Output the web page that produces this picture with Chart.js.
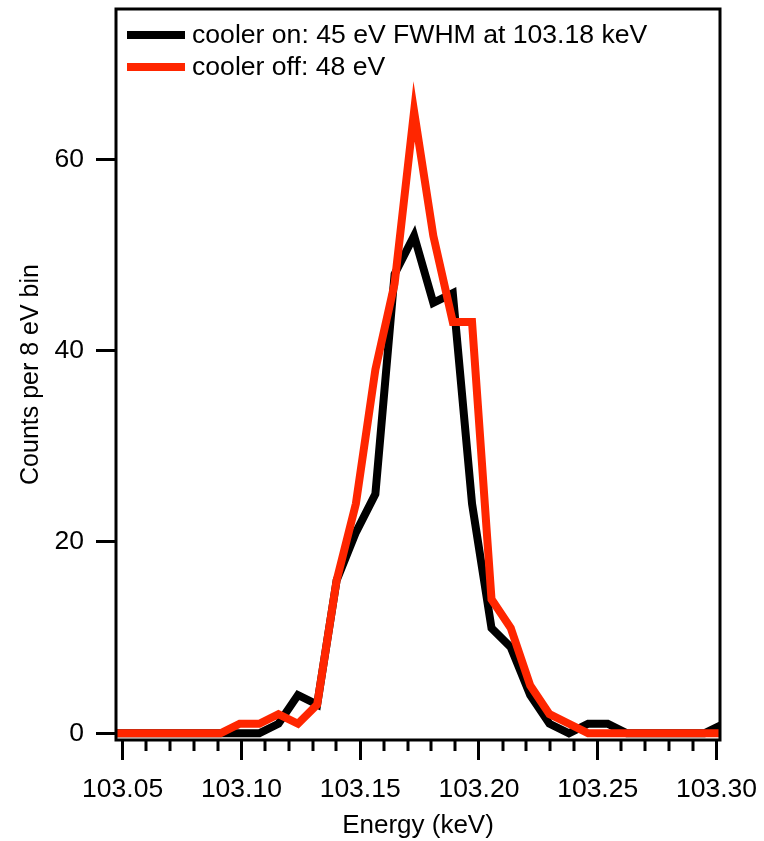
<!DOCTYPE html>
<html>
<head>
<meta charset="utf-8">
<script src="https://cdn.jsdelivr.net/npm/chart.js@4.4.1/dist/chart.umd.min.js"></script>
<style>
  html, body { margin: 0; padding: 0; background: #ffffff; }
  #wrap { width: 764px; height: 841px; position: relative; }
</style>
</head>
<body>
<div id="wrap"><canvas id="c" width="764" height="841"></canvas></div>
<script>
// Bin energies (keV)
const energies = [
  103.0423, 103.0504, 103.0586, 103.0667, 103.0749, 103.0830, 103.0912,
  103.0993, 103.1075, 103.1156, 103.1238, 103.1319, 103.1401, 103.1482,
  103.1564, 103.1645, 103.1727, 103.1808, 103.1890, 103.1971, 103.2053,
  103.2134, 103.2216, 103.2297, 103.2379, 103.2460, 103.2542, 103.2623,
  103.2705, 103.2786, 103.2868, 103.2949, 103.3031
];
// Counts per 8 eV bin
const coolerOn = [
  0, 0, 0, 0, 0, 0, 0,
  0, 0, 1, 4, 3, 16, 21,
  25, 48, 52, 45, 46, 24, 11,
  9, 4, 1, 0, 1, 1, 0,
  0, 0, 0, 0, 1
];
const coolerOff = [
  0, 0, 0, 0, 0, 0, 0,
  1, 1, 2, 1, 3, 16, 24,
  38, 47, 65, 52, 43, 43, 14,
  11, 5, 2, 1, 0, 0, 0,
  0, 0, 0, 0, 0
];
const seriesLabels = ['cooler on: 45 eV FWHM at 103.18 keV', 'cooler off: 48 eV'];
const xMajorTicks = [103.05, 103.10, 103.15, 103.20, 103.25, 103.30];
const xMinorTicks = [103.06, 103.07, 103.08, 103.09, 103.11, 103.12, 103.13, 103.14,
                     103.16, 103.17, 103.18, 103.19, 103.21, 103.22, 103.23, 103.24,
                     103.26, 103.27, 103.28, 103.29];
const yTicks = [0, 20, 40, 60];

const FONT = "'Liberation Sans', Arial, Helvetica, sans-serif";
const RED = '#ff2600';

const framePlugin = {
  id: 'frame',
  afterDraw(chart) {
    const ctx = chart.ctx;
    const a = chart.chartArea;
    const xs = chart.scales.x;
    ctx.save();
    ctx.strokeStyle = '#000';
    ctx.lineWidth = 3;
    ctx.strokeRect(a.left, a.top, a.right - a.left, a.bottom - a.top);
    // minor ticks
    xMinorTicks.forEach(v => {
      const px = Math.round(xs.getPixelForValue(v));
      ctx.beginPath();
      ctx.moveTo(px, a.bottom);
      ctx.lineTo(px, a.bottom + 11);
      ctx.stroke();
    });
    // legend
    const ds = chart.data.datasets;
    const rows = [35, 67];
    ctx.font = '26.6px ' + FONT;
    ctx.textBaseline = 'middle';
    ctx.textAlign = 'left';
    ds.forEach((d, i) => {
      const y = rows[i];
      ctx.strokeStyle = d.borderColor;
      ctx.lineWidth = 8;
      ctx.lineCap = 'butt';
      ctx.beginPath();
      ctx.moveTo(127, y);
      ctx.lineTo(185, y);
      ctx.stroke();
      ctx.fillStyle = '#000';
      ctx.fillText(d.label, 192, y + 1);
    });
    ctx.restore();
  }
};

const noPad = s => { s.paddingTop = 0; s.paddingBottom = 0; s.paddingLeft = 0; s.paddingRight = 0; };

new Chart(document.getElementById('c'), {
  type: 'line',
  data: {
    datasets: [
      {
        label: seriesLabels[0],
        data: energies.map((e, i) => ({ x: e, y: coolerOn[i] })),
        borderColor: '#000000',
        borderWidth: 8,
        pointRadius: 0,
        tension: 0,
        fill: false,
        clip: 0,
        order: 2,
        borderJoinStyle: 'miter'
      },
      {
        label: seriesLabels[1],
        data: energies.map((e, i) => ({ x: e, y: coolerOff[i] })),
        borderColor: RED,
        borderWidth: 8,
        pointRadius: 0,
        tension: 0,
        fill: false,
        clip: 0,
        order: 1,
        borderJoinStyle: 'miter'
      }
    ]
  },
  options: {
    responsive: false,
    animation: false,
    devicePixelRatio: 1,
    layout: { padding: { top: 9, right: 44, bottom: 0, left: 0 } },
    plugins: {
      legend: { display: false },
      tooltip: { enabled: false }
    },
    scales: {
      x: {
        type: 'linear',
        min: 103.0472,
        max: 103.3015,
        afterBuildTicks: s => { s.ticks = xMajorTicks.map(v => ({ value: v })); },
        afterFit: s => { s.height = 101; noPad(s); },
        ticks: {
          callback: v => Number(v).toFixed(2),
          color: '#000',
          font: { family: FONT, size: 26.5 },
          padding: 14,
          maxRotation: 0,
          autoSkip: false
        },
        grid: {
          drawOnChartArea: false,
          drawTicks: true,
          tickLength: 20,
          tickWidth: 3,
          tickColor: '#000'
        },
        border: { display: false },
        title: {
          display: true,
          text: 'Energy (keV)',
          color: '#000',
          font: { family: FONT, size: 26 },
          padding: { top: 0, bottom: 0 }
        }
      },
      y: {
        type: 'linear',
        min: -0.7,
        max: 75.7,
        afterBuildTicks: s => { s.ticks = yTicks.map(v => ({ value: v })); },
        afterFit: s => { s.width = 116; noPad(s); },
        ticks: {
          color: '#000',
          font: { family: FONT, size: 26.5 },
          padding: 12
        },
        grid: {
          drawOnChartArea: false,
          drawTicks: true,
          tickLength: 20,
          tickWidth: 3,
          tickColor: '#000'
        },
        border: { display: false },
        title: {
          display: true,
          text: 'Counts per 8 eV bin',
          color: '#000',
          font: { family: FONT, size: 25 },
          padding: { top: 16, bottom: 0 }
        }
      }
    }
  },
  plugins: [framePlugin]
});
</script>
</body>
</html>
